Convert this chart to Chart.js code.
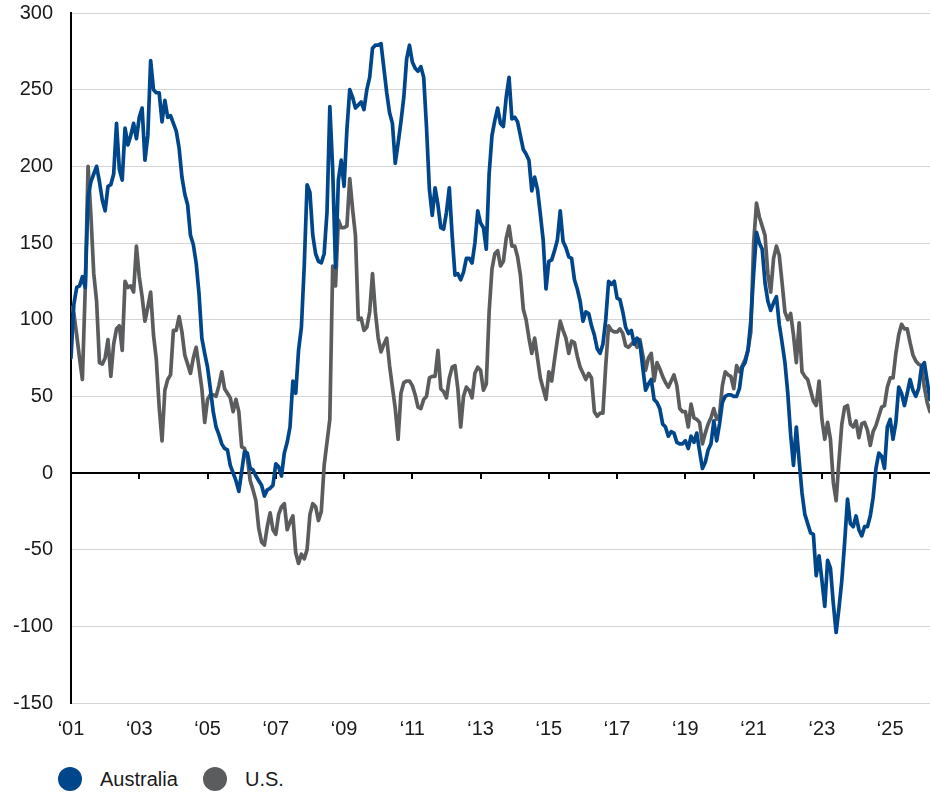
<!DOCTYPE html>
<html>
<head>
<meta charset="utf-8">
<script src="https://cdn.jsdelivr.net/npm/chart.js@4/dist/chart.umd.min.js"></script>
<style>
  body { margin: 0; background: #fff; overflow: hidden; }
  #wrap { position: relative; width: 931px; height: 793px; overflow: hidden; font-family: "Liberation Sans", Arial, sans-serif; }
  #chart { position: absolute; left: 0; top: -17px; }
  .legend { position: absolute; top: 767px; font-size: 20px; color: #1a1a1a; display: flex; align-items: center; }
  .dot { width: 24px; height: 24px; border-radius: 50%; margin-right: 18px; }
</style>
</head>
<body>
<div id="wrap">
  <canvas id="chart" width="931" height="777"></canvas>
  <div class="legend" style="left:58px"><span class="dot" style="background:#00468b"></span>Australia</div>
  <div class="legend" style="left:203px"><span class="dot" style="background:#5a5c5e"></span>U.S.</div>
</div>
<script>
// monthly series, Jan 2001 onwards
const startYear = 2001;

const australia = [
  75, 110, 121, 122, 128, 121, 180, 190, 195, 200, 190, 178,
  171, 187, 188, 195, 228, 198, 191, 225, 214, 220, 228, 218,
  232, 238, 204, 220, 269, 250, 248, 248, 229, 243, 232, 233,
  228, 223, 212, 193, 182, 175, 155, 149, 137, 117, 88, 78,
  69, 55, 40, 30, 25, 19, 16, 15, 5, 0, -5, -12,
  1, 14, 13, 3, 2, -2, -5, -8, -15, -11, -10, -8,
  6, 4, -2, 13, 20, 30, 60, 52, 80, 95, 135, 188,
  183, 155, 143, 138, 137, 143, 170, 239, 198, 134, 191, 204,
  187, 224, 250, 245, 238, 240, 242, 237, 250, 258, 277, 279,
  279, 280, 264, 248, 235, 228, 202, 215, 229, 245, 270, 279,
  268, 264, 262, 265, 258, 225, 185, 168, 186, 175, 160, 159,
  170, 186, 155, 129, 130, 126, 131, 140, 140, 137, 150, 171,
  163, 160, 146, 195, 220, 230, 238, 228, 226, 245, 258, 231,
  232, 229, 220, 211, 208, 204, 184, 193, 185, 169, 152, 120,
  138, 139, 145, 152, 171, 151, 147, 141, 140, 126, 120, 112,
  99, 105, 104, 96, 90, 81, 78, 84, 100, 125, 123, 125,
  114, 113, 105, 95, 91, 93, 84, 88, 85, 69, 54, 58,
  61, 48, 46, 42, 32, 30, 24, 27, 26, 20, 19, 19,
  21, 16, 24, 20, 26, 14, 3, 7, 15, 19, 34, 21,
  32, 46, 50, 51, 51, 50, 50, 55, 69, 72, 80, 99,
  130, 157, 150, 146, 124, 112, 106, 111, 115, 97, 85, 72,
  52, 25, 5, 30, 8, -13, -27, -33, -39, -40, -67, -54,
  -70, -87, -57, -62, -85, -104, -88, -70, -45, -17, -33, -35,
  -28, -37, -41, -35, -35, -28, -16, 3, 13, 11, 3, 30,
  35, 22, 33, 56, 52, 44, 52, 61, 54, 50, 55, 69,
  72, 60, 48
];

const us = [
  108, 104, 90, 75, 61, 120, 200, 168, 130, 112, 72, 71,
  75, 87, 63, 84, 94, 96, 80, 125, 121, 122, 118, 148,
  128, 115, 99, 108, 118, 90, 74, 43, 21, 54, 61, 64,
  93, 93, 102, 92, 77, 71, 65, 75, 82, 69, 55, 33,
  48, 51, 51, 50, 57, 66, 55, 52, 49, 40, 48, 40,
  17, 16, 10, -5, -11, -18, -36, -45, -47, -35, -26, -37,
  -40, -27, -22, -20, -37, -32, -28, -52, -59, -53, -56, -50,
  -27, -20, -22, -31, -25, 5, 20, 35, 135, 122, 165, 160,
  160, 161, 192, 172, 155, 100, 101, 93, 95, 105, 130, 105,
  88, 79, 84, 88, 70, 56, 42, 22, 52, 59, 60, 60,
  57, 51, 43, 42, 48, 50, 62, 63, 63, 80, 55, 53,
  49, 62, 69, 70, 55, 30, 50, 56, 54, 49, 65, 69,
  67, 54, 58, 105, 133, 143, 145, 135, 138, 153, 161, 148,
  148, 141, 129, 107, 100, 88, 78, 88, 75, 62, 55, 48,
  66, 60, 74, 87, 99, 93, 88, 78, 86, 85, 76, 69,
  65, 61, 65, 62, 40, 37, 39, 39, 70, 96, 93, 92,
  92, 94, 91, 83, 82, 84, 86, 82, 87, 77, 67, 75,
  78, 60, 72, 68, 63, 59, 56, 60, 64, 57, 42, 40,
  40, 30, 45, 36, 35, 33, 19, 26, 32, 36, 42, 35,
  38, 57, 66, 64, 63, 55, 70, 66, 70, 74, 80, 92,
  150, 176, 167, 161, 155, 130, 118, 140, 148, 142, 124, 105,
  100, 104, 90, 72, 98, 66, 63, 61, 54, 47, 44, 60,
  35, 22, 33, 22, -6, -18, 8, 32, 43, 44, 32, 30,
  34, 23, 32, 33, 28, 18, 27, 31, 37, 43, 44, 56,
  62, 62, 78, 90, 97, 94, 94, 85, 77, 73, 71, 70,
  56, 46, 40
];

// x tick labels every two years
const yearTicks = ['‘01', '‘03', '‘05', '‘07', '‘09', '‘11', '‘13', '‘15', '‘17', '‘19', '‘21', '‘23', '‘25'];
const yMin = -150, yMax = 300, yStep = 50;

const toPoints = arr => arr.map((v, i) => ({ x: i, y: v }));
const lastIndex = australia.length - 1;

// zero axis with tick marks, drawn under the lines
const zeroAxis = {
  id: 'zeroAxis',
  beforeDatasetsDraw(chart) {
    const { ctx, chartArea, scales } = chart;
    const y0 = scales.y.getPixelForValue(0);
    ctx.save();
    ctx.strokeStyle = '#000';
    ctx.lineWidth = 2;
    ctx.beginPath();
    ctx.moveTo(chartArea.left, y0);
    ctx.lineTo(chartArea.right, y0);
    yearTicks.forEach((_, k) => {
      const px = Math.round(scales.x.getPixelForValue(k * 24));
      ctx.moveTo(px, y0);
      ctx.lineTo(px, y0 + 6);
    });
    ctx.stroke();
    ctx.restore();
  }
};

new Chart(document.getElementById('chart'), {
  type: 'line',
  data: {
    datasets: [
      { label: 'Australia', data: toPoints(australia), borderColor: '#00468b', borderWidth: 3.7 },
      { label: 'U.S.', data: toPoints(us), borderColor: '#5a5c5e', borderWidth: 3.7 }
    ]
  },
  options: {
    responsive: false,
    animation: false,
    layout: { padding: { left: 0, right: 1, top: 0, bottom: 0 } },
    elements: {
      point: { radius: 0 },
      line: { tension: 0, borderJoinStyle: 'round', borderCapStyle: 'round' }
    },
    plugins: { legend: { display: false }, tooltip: { enabled: false } },
    scales: {
      x: {
        type: 'linear',
        min: 0,
        max: lastIndex,
        grid: { display: false, drawTicks: false },
        border: { display: false },
        afterFit: s => { s.height = 57; },
        ticks: {
          stepSize: 24,
          includeBounds: false,
          padding: 14,
          autoSkip: false,
          maxRotation: 0,
          color: '#1a1a1a',
          font: { family: '"Liberation Sans", Arial, sans-serif', size: 20 },
          callback: v => (v % 24 === 0 ? yearTicks[v / 24] || '' : '')
        }
      },
      y: {
        min: yMin,
        max: yMax,
        afterFit: s => { s.width = 71; },
        grid: { color: '#d4d4d4', lineWidth: 1, drawTicks: false },
        border: { display: true, color: '#000', width: 2 },
        ticks: {
          stepSize: yStep,
          padding: 18,
          color: '#1a1a1a',
          font: { family: '"Liberation Sans", Arial, sans-serif', size: 20 }
        }
      }
    }
  },
  plugins: [zeroAxis]
});
</script>
</body>
</html>
